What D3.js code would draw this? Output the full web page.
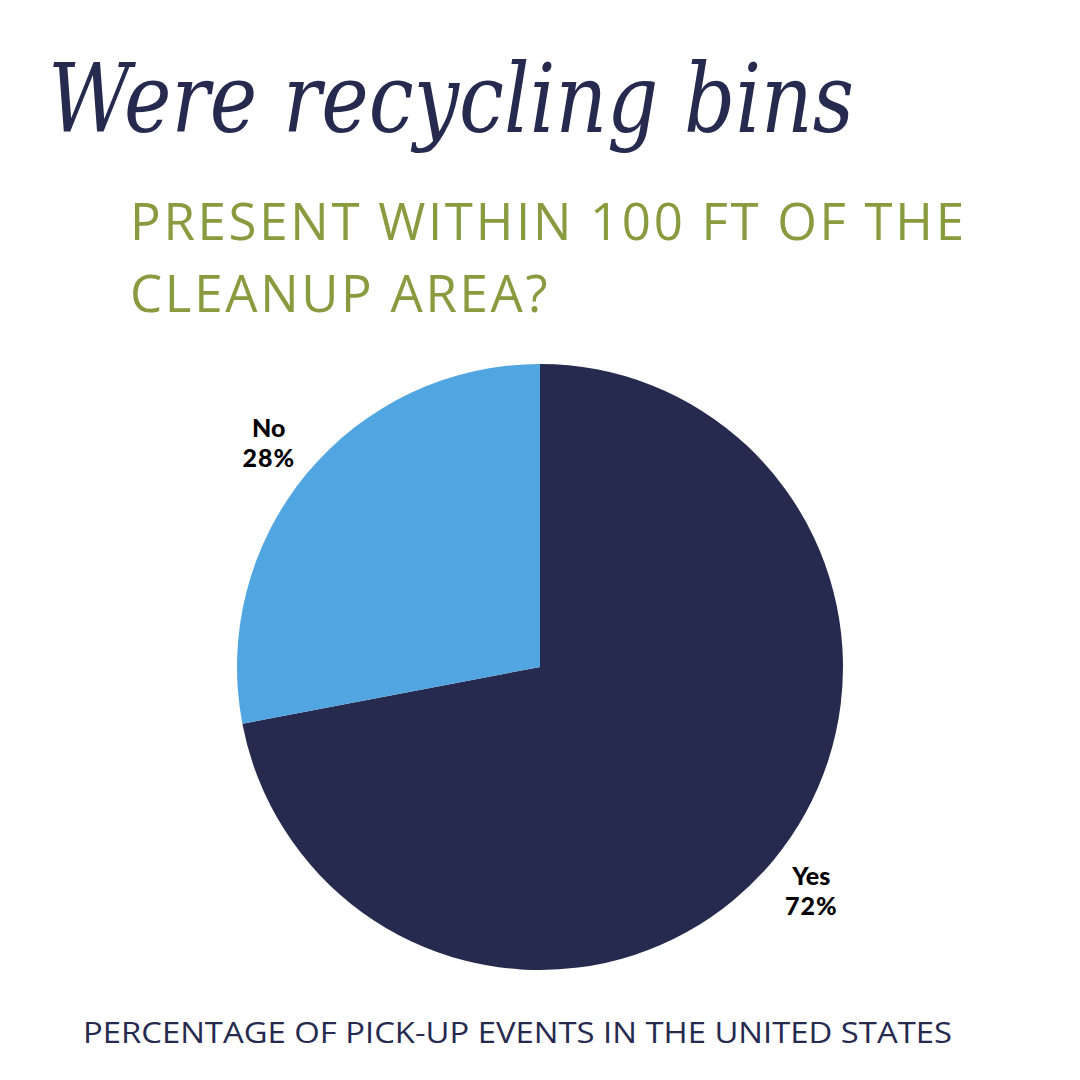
<!DOCTYPE html>
<html>
<head>
<meta charset="utf-8">
<script src="https://cdn.jsdelivr.net/npm/d3@7"></script>
<style>
  body { margin: 0; background: #fff; }
</style>
</head>
<body>
<svg id="chart" width="1080" height="1080"></svg>
<script>
const WIDTH = 1080
const HEIGHT = 1080
const CENTER = {x: 540, y: 667}
const RADIUS = 303

// data
const categories = ["Yes", "No"]
const values = [72, 28]
const colors = ["#262a4f", "#51a5e1"]

const titleLines = ["PRESENT WITHIN 100 FT OF THE", "CLEANUP AREA?"]

let svg = d3.select("#chart")

svg.append("rect")
  .attr("width", WIDTH)
  .attr("height", HEIGHT)
  .attr("fill", "#fff")

// script headline (no script font available, italic serif stands in)
svg.append("text")
  .attr("x", 48)
  .attr("y", 132)
  .attr("font-family", "'DejaVu Serif', serif")
  .attr("font-style", "italic")
  .attr("font-size", 96)
  .attr("fill", "#262a4f")
  .attr("textLength", 806)
  .attr("lengthAdjust", "spacingAndGlyphs")
  .text("Were recycling bins")

svg.append("g")
  .selectAll("text")
  .data(titleLines)
  .join("text")
  .attr("x", 130)
  .attr("y", (d, i) => 240 + i * 72)
  .attr("font-family", "'Open Sans', sans-serif")
  .attr("font-weight", 400)
  .attr("font-size", 51)
  .attr("letter-spacing", 2.7)
  .attr("fill", "#8a9a3e")
  .text(d => d)

let pieData = categories.map((c, i) => ({label: c, value: values[i], color: colors[i]}))

let pie = d3.pie()
  .value(d => d.value)
  .sort(null)

let arc = d3.arc()
  .innerRadius(0)
  .outerRadius(RADIUS)

let labelArc = d3.arc()
  .innerRadius(352)
  .outerRadius(352)

let g = svg.append("g")
  .attr("transform", `translate(${CENTER.x}, ${CENTER.y})`)

g.selectAll("path")
  .data(pie(pieData))
  .join("path")
  .attr("d", arc)
  .attr("fill", d => d.data.color)

let labels = g.selectAll("g.label")
  .data(pie(pieData))
  .join("g")
  .attr("class", "label")
  .attr("transform", d => `translate(${labelArc.centroid(d)})`)

labels.append("text")
  .attr("text-anchor", "middle")
  .attr("y", -6)
  .attr("font-family", "Lato, sans-serif")
  .attr("font-weight", 900)
  .attr("font-size", 25)
  .attr("fill", "#000")
  .text(d => d.data.label)

labels.append("text")
  .attr("text-anchor", "middle")
  .attr("y", 24)
  .attr("font-family", "Lato, sans-serif")
  .attr("font-weight", 900)
  .attr("font-size", 25)
  .attr("letter-spacing", 1)
  .attr("fill", "#000")
  .text(d => `${d.data.value}%`)

svg.append("text")
  .attr("x", 83)
  .attr("y", 1043)
  .attr("font-family", "'Open Sans', sans-serif")
  .attr("font-size", 29)
  .attr("fill", "#262a4f")
  .attr("textLength", 869)
  .attr("lengthAdjust", "spacingAndGlyphs")
  .text("PERCENTAGE OF PICK-UP EVENTS IN THE UNITED STATES")
</script>
</body>
</html>
